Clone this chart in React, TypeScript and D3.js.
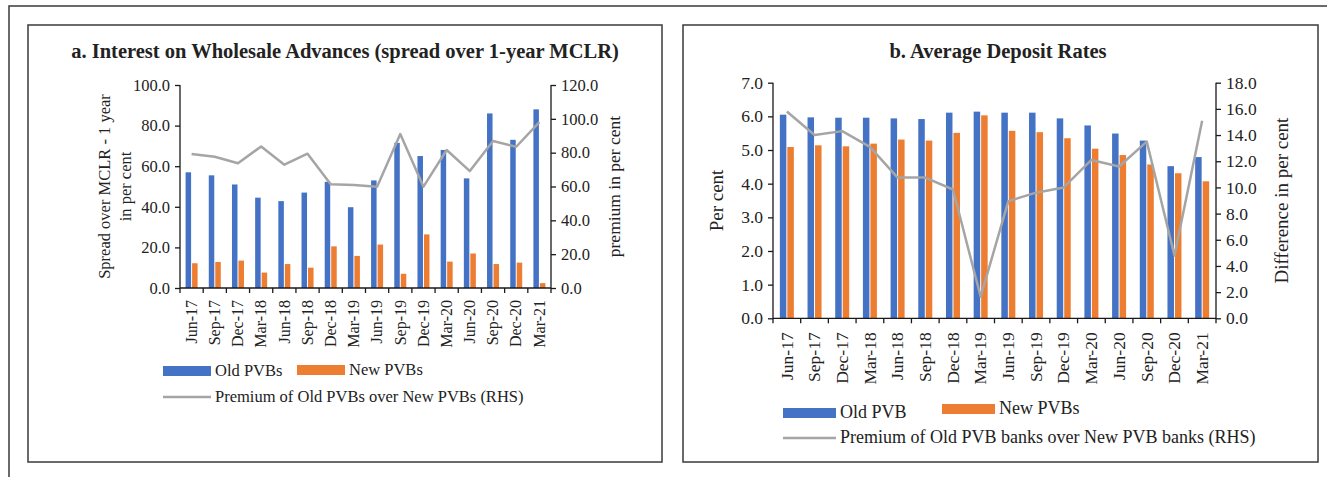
import { useEffect, useRef } from 'react';
import * as d3 from 'd3';

const quarters = [
  'Jun-17', 'Sep-17', 'Dec-17', 'Mar-18', 'Jun-18', 'Sep-18', 'Dec-18', 'Mar-19',
  'Jun-19', 'Sep-19', 'Dec-19', 'Mar-20', 'Jun-20', 'Sep-20', 'Dec-20', 'Mar-21',
];

// a. wholesale advances, spread over 1-year MCLR
const wholesaleOld = [57.0, 55.5, 51.0, 44.5, 42.8, 47.0, 52.3, 39.8, 53.0, 71.5, 65.0, 68.0, 54.0, 86.0, 73.0, 88.0];
const wholesaleNew = [12.2, 12.8, 13.5, 7.6, 11.8, 10.0, 20.5, 15.8, 21.4, 7.0, 26.4, 13.0, 17.0, 11.8, 12.5, 2.4];
const wholesalePremium = [79.2, 77.6, 73.7, 83.7, 72.9, 79.4, 61.3, 60.9, 59.9, 91.0, 59.9, 81.6, 69.1, 86.9, 83.5, 98.1];
const wholesaleLeftTicks = [0, 20, 40, 60, 80, 100];
const wholesaleRightTicks = [0, 20, 40, 60, 80, 100, 120];

// b. average deposit rates
const depositOld = [6.05, 5.97, 5.96, 5.96, 5.94, 5.92, 6.11, 6.14, 6.11, 6.11, 5.94, 5.73, 5.49, 5.28, 4.52, 4.79];
const depositNew = [5.09, 5.14, 5.11, 5.19, 5.31, 5.28, 5.51, 6.03, 5.57, 5.53, 5.35, 5.04, 4.85, 4.57, 4.31, 4.07];
const depositPremium = [15.8, 14.0, 14.3, 13.1, 10.75, 10.75, 9.84, 1.65, 8.95, 9.6, 10.0, 12.1, 11.6, 13.5, 4.8, 15.1];
const depositLeftTicks = [0, 1, 2, 3, 4, 5, 6, 7];
const depositRightTicks = [0, 2, 4, 6, 8, 10, 12, 14, 16, 18];

const FONT = "'Liberation Serif', 'Times New Roman', serif";
const BLUE = '#4472C4';
const ORANGE = '#ED7D31';
const GREY = '#A5A5A5';

type LegendItem = { kind: 'bar' | 'line'; color: string; label: string; x: number; y: number };

type Panel = {
  title: string;
  titleX: number;
  titleSize: number;
  box: [number, number, number, number];
  x0: number;
  x1: number;
  yTop: number;
  yBottom: number;
  leftTicks: number[];
  rightTicks: number[];
  old: number[];
  fresh: number[];
  premium: number[];
  barW: number;
  tickSize: number;
  catSize: number;
  catGap: number;
  leftTitle: string[];
  leftTitleX: number[];
  leftTitleSize: number;
  rightTitle: string;
  rightTitleX: number;
  rightTitleSize: number;
  legendSize: number;
  swatchW: number;
  legend: LegendItem[];
};

function drawPanel(svg: d3.Selection<SVGSVGElement, unknown, null, undefined>, p: Panel) {
  const g = svg.append('g');
  const [bx, by, bw, bh] = p.box;
  g.append('rect')
    .attr('x', bx).attr('y', by).attr('width', bw).attr('height', bh)
    .attr('fill', 'none').attr('stroke', '#3a3a3a').attr('stroke-width', 1.5);

  g.append('text')
    .attr('x', p.titleX).attr('y', 58)
    .attr('text-anchor', 'middle')
    .attr('font-family', FONT).attr('font-weight', 'bold').attr('font-size', p.titleSize)
    .attr('fill', '#222')
    .text(p.title);

  const x = d3.scaleBand<string>().domain(quarters).range([p.x0, p.x1]);
  const yL = d3.scaleLinear().domain([0, d3.max(p.leftTicks)!]).range([p.yBottom, p.yTop]);
  const yR = d3.scaleLinear().domain([0, d3.max(p.rightTicks)!]).range([p.yBottom, p.yTop]);
  const cx = (q: string) => x(q)! + x.bandwidth() / 2;

  // bars
  g.selectAll('rect.old')
    .data(quarters)
    .enter()
    .append('rect')
    .attr('x', (q) => cx(q) - p.barW - 0.5)
    .attr('y', (_, i) => yL(p.old[i]))
    .attr('width', p.barW)
    .attr('height', (_, i) => p.yBottom - yL(p.old[i]))
    .attr('fill', BLUE);

  g.selectAll('rect.new')
    .data(quarters)
    .enter()
    .append('rect')
    .attr('x', (q) => cx(q) + 0.5)
    .attr('y', (_, i) => yL(p.fresh[i]))
    .attr('width', p.barW)
    .attr('height', (_, i) => p.yBottom - yL(p.fresh[i]))
    .attr('fill', ORANGE);

  // premium line on the right axis
  const line = d3
    .line<number>()
    .x((_, i) => cx(quarters[i]))
    .y((d) => yR(d));
  g.append('path')
    .datum(p.premium)
    .attr('d', line)
    .attr('fill', 'none')
    .attr('stroke', GREY)
    .attr('stroke-width', 2.5)
    .attr('stroke-linejoin', 'round');

  // axes
  const axisColor = '#1a1a1a';
  const fmt = d3.format('.1f');

  const left = g.append('g').attr('transform', `translate(${p.x0},0)`)
    .call(d3.axisLeft(yL).tickValues(p.leftTicks).tickFormat((d) => fmt(d as number)).tickSize(5).tickPadding(5));
  const right = g.append('g').attr('transform', `translate(${p.x1},0)`)
    .call(d3.axisRight(yR).tickValues(p.rightTicks).tickFormat((d) => fmt(d as number)).tickSize(5).tickPadding(p.rightPad ?? 5));
  [left, right].forEach((a) => {
    a.select('.domain').attr('stroke', axisColor).attr('stroke-width', 1.3).attr('d', `M0,${p.yTop}V${p.yBottom}`);
    a.selectAll('.tick line').attr('stroke', axisColor).attr('stroke-width', 1.3);
    a.selectAll('.tick text').attr('font-family', FONT).attr('font-size', p.tickSize).attr('fill', '#222');
  });

  // category axis: ticks at band boundaries
  g.append('line')
    .attr('x1', p.x0).attr('x2', p.x1).attr('y1', p.yBottom).attr('y2', p.yBottom)
    .attr('stroke', axisColor).attr('stroke-width', 1.3);
  const bounds = quarters.map((q) => x(q)!).concat([p.x1]);
  g.selectAll('line.cat')
    .data(bounds)
    .enter()
    .append('line')
    .attr('x1', (d) => d).attr('x2', (d) => d)
    .attr('y1', p.yBottom).attr('y2', p.yBottom + 5)
    .attr('stroke', axisColor).attr('stroke-width', 1.3);
  g.selectAll('text.cat')
    .data(quarters)
    .enter()
    .append('text')
    .attr('transform', (q) => `translate(${cx(q) + p.catSize * 0.33},${p.yBottom + p.catGap}) rotate(-90)`)
    .attr('text-anchor', 'end')
    .attr('font-family', FONT).attr('font-size', p.catSize).attr('fill', '#222')
    .text((q) => q);

  // axis titles
  const midY = (p.yTop + p.yBottom) / 2;
  p.leftTitle.forEach((t, i) => {
    g.append('text')
      .attr('transform', `translate(${p.leftTitleX[i]},${midY}) rotate(-90)`)
      .attr('text-anchor', 'middle')
      .attr('font-family', FONT).attr('font-size', p.leftTitleSize).attr('fill', '#222')
      .text(t);
  });
  g.append('text')
    .attr('transform', `translate(${p.rightTitleX},${midY}) rotate(-90)`)
    .attr('text-anchor', 'middle')
    .attr('font-family', FONT).attr('font-size', p.rightTitleSize).attr('fill', '#222')
    .text(p.rightTitle);

  // legend
  p.legend.forEach((item) => {
    if (item.kind === 'bar') {
      g.append('rect')
        .attr('x', item.x).attr('y', item.y - 10)
        .attr('width', p.swatchW).attr('height', 10)
        .attr('fill', item.color);
    } else {
      g.append('line')
        .attr('x1', item.x).attr('x2', item.x + p.swatchW)
        .attr('y1', item.y - 5).attr('y2', item.y - 5)
        .attr('stroke', item.color).attr('stroke-width', 2.5);
    }
    g.append('text')
      .attr('x', item.x + p.swatchW + 4).attr('y', item.y)
      .attr('font-family', FONT).attr('font-size', p.legendSize).attr('fill', '#222')
      .text(item.label);
  });
}

export default function App() {
  const ref = useRef<SVGSVGElement>(null);

  useEffect(() => {
    if (!ref.current) return;
    const svg = d3.select(ref.current);
    svg.selectAll('*').remove();
    const width = 1327;
    const height = 477;
    svg.attr('width', width).attr('height', height);

    svg.append('rect').attr('width', width).attr('height', height).attr('fill', '#fff');
    svg.append('path')
      .attr('d', 'M9,477V6H1327')
      .attr('fill', 'none').attr('stroke', '#3a3a3a').attr('stroke-width', 1.5);

    drawPanel(svg, {
      title: 'a. Interest on Wholesale Advances (spread over 1-year MCLR)',
      titleX: 345,
      titleSize: 20.5,
      box: [28, 25, 634, 437],
      x0: 180,
      x1: 551,
      yTop: 85,
      yBottom: 288,
      leftTicks: wholesaleLeftTicks,
      rightTicks: wholesaleRightTicks,
      old: wholesaleOld,
      fresh: wholesaleNew,
      premium: wholesalePremium,
      barW: 5.5,
      tickSize: 16.5,
      catSize: 16,
      catGap: 12,
      leftTitle: ['Spread over MCLR - 1 year', 'in per cent'],
      leftTitleX: [110, 131],
      leftTitleSize: 16.5,
      rightTitle: 'premium in per cent',
      rightTitleX: 620,
      rightTitleSize: 17.5,
      legendSize: 16.5,
      swatchW: 48,
      legend: [
        { kind: 'bar', color: BLUE, label: 'Old PVBs', x: 163, y: 376 },
        { kind: 'bar', color: ORANGE, label: 'New PVBs', x: 297, y: 375 },
        { kind: 'line', color: GREY, label: 'Premium of Old PVBs over New PVBs (RHS)', x: 163, y: 402 },
      ],
    } as Panel);

    drawPanel(svg, {
      title: 'b. Average Deposit Rates',
      titleX: 998,
      titleSize: 20.5,
      box: [683, 25, 635, 437],
      x0: 773,
      x1: 1216,
      yTop: 82.7,
      yBottom: 318.3,
      leftTicks: depositLeftTicks,
      rightTicks: depositRightTicks,
      old: depositOld,
      fresh: depositNew,
      premium: depositPremium,
      barW: 6.5,
      tickSize: 17.5,
      catSize: 17.5,
      catGap: 14,
      leftTitle: ['Per cent'],
      leftTitleX: [723],
      leftTitleSize: 19,
      rightTitle: 'Difference in per cent',
      rightTitleX: 1288,
      rightTitleSize: 19,
      legendSize: 18,
      swatchW: 53,
      legend: [
        { kind: 'bar', color: BLUE, label: 'Old PVB', x: 783, y: 418 },
        { kind: 'bar', color: ORANGE, label: 'New PVBs', x: 942, y: 414 },
        { kind: 'line', color: GREY, label: 'Premium of Old PVB banks over New PVB banks (RHS)', x: 783, y: 443 },
      ],
    } as Panel);
  }, []);

  return (
    <div style={{ position: 'absolute', left: 0, top: 0 }}>
      <svg ref={ref} style={{ display: 'block' }} />
    </div>
  );
}
